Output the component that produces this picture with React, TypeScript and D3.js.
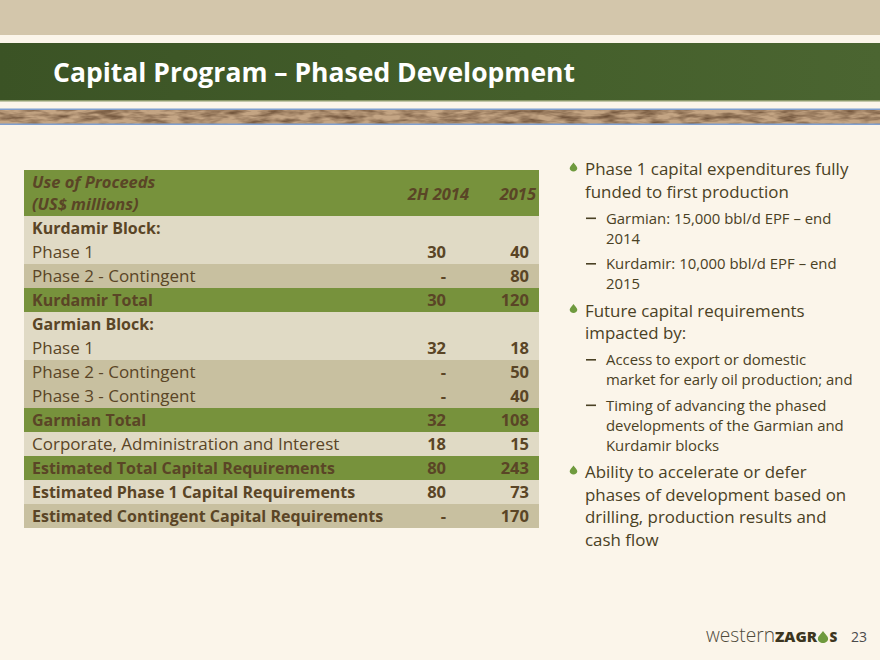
import React from "react";
import * as d3 from "d3";

const W = 880;
const H = 660;

const titleText = "Capital Program – Phased Development";
const headerLines = ["Use of Proceeds", "(US$ millions)"];
const columnHeaders = ["2H 2014", "2015"];

const rowLabels = [
  "Kurdamir Block:",
  "Phase 1",
  "Phase 2 - Contingent",
  "Kurdamir Total",
  "Garmian Block:",
  "Phase 1",
  "Phase 2 - Contingent",
  "Phase 3 - Contingent",
  "Garmian Total",
  "Corporate, Administration and Interest",
  "Estimated Total Capital Requirements",
  "Estimated Phase 1 Capital Requirements",
  "Estimated Contingent Capital Requirements",
];
const values2H2014: (number | string)[] = ["", 30, "-", 30, "", 32, "-", "-", 32, 18, 80, 80, "-"];
const values2015: (number | string)[] = ["", 40, 80, 120, "", 18, 50, 40, 108, 15, 243, 73, 170];
const rowKinds = [
  "section", "light", "tan", "total", "section", "light", "tan", "tan",
  "total", "light", "total", "boldLight", "boldTan",
];

const bullets = [
  { level: 1, lines: ["Phase 1 capital expenditures fully", "funded to first production"] },
  { level: 2, lines: ["Garmian: 15,000 bbl/d EPF – end", "2014"] },
  { level: 2, lines: ["Kurdamir: 10,000 bbl/d EPF – end", "2015"] },
  { level: 1, lines: ["Future capital requirements", "impacted by:"] },
  { level: 2, lines: ["Access to export or domestic", "market for early oil production; and"] },
  { level: 2, lines: ["Timing of advancing the phased", "developments of the Garmian and", "Kurdamir blocks"] },
  { level: 1, lines: ["Ability to accelerate or defer", "phases of development based on", "drilling, production results and", "cash flow"] },
];
const logoWords = ["western", "ZAGR", "S"];
const pageNumber = "23";

const FONT = "'Open Sans', 'DejaVu Sans', sans-serif";
const BG = "#fbf5ea";
const GREEN = "#77923c";
const LIGHT = "#e0dac5";
const TAN = "#c8c0a0";
const BROWN = "#5a4526";
const TEXT = "#4a4124";

const fills: Record<string, string> = {
  section: LIGHT, light: LIGHT, tan: TAN, total: GREEN, boldLight: LIGHT, boldTan: TAN,
};

function Drop({ x, y, s, fill }: { x: number; y: number; s: number; fill: string }) {
  const p = d3.path();
  p.moveTo(x, y - s);
  p.bezierCurveTo(x + s * 0.3, y - s * 0.5, x + s * 0.85, y - s * 0.15, x + s * 0.85, y + s * 0.3);
  p.bezierCurveTo(x + s * 0.85, y + s * 0.75, x + s * 0.45, y + s, x, y + s);
  p.bezierCurveTo(x - s * 0.45, y + s, x - s * 0.85, y + s * 0.75, x - s * 0.85, y + s * 0.3);
  p.bezierCurveTo(x - s * 0.85, y - s * 0.15, x - s * 0.3, y - s * 0.5, x, y - s);
  p.closePath();
  return <path d={p.toString()} fill={fill} />;
}

export default function App() {
  const tableX0 = 24;
  const tableX1 = 539;
  const headerTop = 170;
  const rows = d3.range(rowLabels.length);
  const yRow = d3.scaleBand<number>().domain(rows).range([216, 528]).padding(0);
  const col2014Right = 446;
  const col2015Right = 529;

  const lineMain = 22.5;
  const lineSub = 20;
  let y = 175;
  const bulletLayout: { level: number; lines: string[]; ys: number[] }[] = [];
  bullets.forEach((b, i) => {
    if (i > 0) {
      const prev = bullets[i - 1].level;
      y += prev === 1 && b.level === 2 ? 26 : prev === 2 && b.level === 2 ? 25.5 : 27.5;
    }
    const ys: number[] = [];
    b.lines.forEach((_, j) => {
      if (j > 0) y += b.level === 1 ? lineMain : lineSub;
      ys.push(y);
    });
    bulletLayout.push({ ...b, ys });
  });

  return (
    <svg
      width={W}
      height={H}
      viewBox={`0 0 ${W} ${H}`}
      style={{ position: "fixed", left: 0, top: 0, display: "block" }}
      fontFamily={FONT}
    >
      <defs>
        <linearGradient id="gband" x1="0" x2="1" y1="0" y2="0">
          <stop offset="0" stopColor="#3b5325" />
          <stop offset="0.6" stopColor="#445f2b" />
          <stop offset="1" stopColor="#4b6531" />
        </linearGradient>
        <filter id="rock" x="0" y="0" width="1" height="1" colorInterpolationFilters="sRGB">
          <feTurbulence type="fractalNoise" baseFrequency="0.05 0.2" numOctaves={3} seed={5} result="n" />
          <feColorMatrix
            in="n"
            type="matrix"
            values="0 0 0 0 0.35  0 0 0 0 0.24  0 0 0 0 0.15  1.6 0 0 0 -0.55"
          />
        </filter>
      </defs>
      <rect x={0} y={0} width={W} height={H} fill={BG} />
      <rect x={0} y={0} width={W} height={35} fill="#d3c6ab" />
      <rect x={0} y={43} width={W} height={58} fill="url(#gband)" />
      <rect x={0} y={100} width={W} height={1.5} fill="#8a9a6a" />
      <text x={53} y={82} fill="#ffffff" fontSize={27} fontWeight={700} textLength={522} lengthAdjust="spacingAndGlyphs">
        {titleText}
      </text>
      <rect x={0} y={110} width={W} height={14} fill="#c4a584" />
      <rect x={0} y={110} width={W} height={14} filter="url(#rock)" />
      <rect x={0} y={108.5} width={W} height={1.5} fill="#7f9fcf" />
      <rect x={0} y={123.5} width={W} height={1.5} fill="#7f9fcf" />

      {/* table */}
      <rect x={tableX0} y={headerTop} width={tableX1 - tableX0} height={216 - headerTop} fill={GREEN} />
      <text x={32} y={188} fill={BROWN} fontSize={16.5} fontWeight={700} fontStyle="italic">{headerLines[0]}</text>
      <text x={32} y={210} fill={BROWN} fontSize={16.5} fontWeight={700} fontStyle="italic">{headerLines[1]}</text>
      <text x={469} y={200} textAnchor="end" fill={BROWN} fontSize={16.5} fontWeight={700} fontStyle="italic">{columnHeaders[0]}</text>
      <text x={536} y={200} textAnchor="end" fill={BROWN} fontSize={16.5} fontWeight={700} fontStyle="italic">{columnHeaders[1]}</text>

      {rows.map((i) => {
        const kind = rowKinds[i];
        const y0 = yRow(i)!;
        const bold = kind !== "light" && kind !== "tan";
        const base = y0 + 18;
        return (
          <g key={i}>
            <rect x={tableX0} y={y0} width={tableX1 - tableX0} height={yRow.bandwidth()} fill={fills[kind]} />
            <text x={32} y={base} fill={BROWN} fontSize={bold ? 16 : 17} fontWeight={bold ? 700 : 400}>
              {rowLabels[i]}
            </text>
            <text x={col2014Right} y={base} textAnchor="end" fill={BROWN} fontSize={16.5} fontWeight={700}>
              {String(values2H2014[i])}
            </text>
            <text x={col2015Right} y={base} textAnchor="end" fill={BROWN} fontSize={16.5} fontWeight={700}>
              {String(values2015[i])}
            </text>
          </g>
        );
      })}

      {/* bullets */}
      {bulletLayout.map((b, i) => (
        <g key={i}>
          {b.level === 1 ? (
            <Drop x={573.5} y={b.ys[0] - 8} s={4.5} fill="#6f9a3e" />
          ) : (
            <rect x={586} y={b.ys[0] - 6} width={10} height={1.6} fill={TEXT} />
          )}
          {b.lines.map((l, j) => (
            <text
              key={j}
              x={b.level === 1 ? 585 : 606}
              y={b.ys[j]}
              fill={TEXT}
              fontSize={b.level === 1 ? 16.9 : 14.9}
            >
              {l}
            </text>
          ))}
        </g>
      ))}

      {/* footer logo */}
      <text x={706} y={642} fill="#4f4a3a" fontSize={20} fontWeight={300} textLength={69} lengthAdjust="spacingAndGlyphs">
        {logoWords[0]}
      </text>
      <text x={775} y={642} fill="#3c3520" fontSize={13.5} fontWeight={800} textLength={42} lengthAdjust="spacingAndGlyphs">
        {logoWords[1]}
      </text>
      <Drop x={823} y={637} s={6} fill="#6f9a3e" />
      <text x={829.5} y={642} fill="#3c3520" fontSize={13.5} fontWeight={800}>{logoWords[2]}</text>
      <text x={851} y={642} fill="#4a4a4a" fontSize={14}>{pageNumber}</text>
    </svg>
  );
}
